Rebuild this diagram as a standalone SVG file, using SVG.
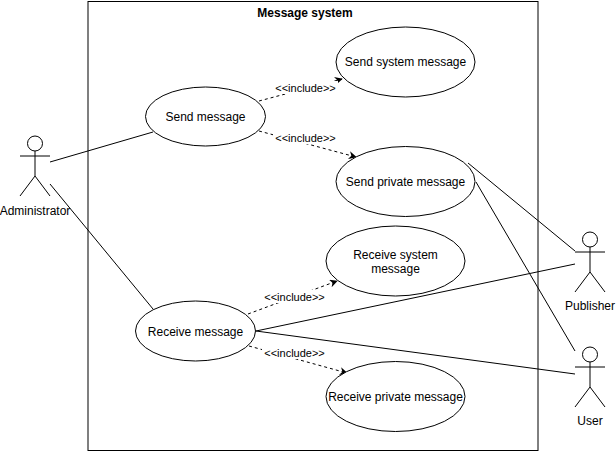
<svg xmlns="http://www.w3.org/2000/svg" width="616" height="453" viewBox="0 0 616 453">
<defs>
<style>
text{font-family:"Liberation Sans",Arial,sans-serif;fill:#000}
.uc{fill:#fff;stroke:#000;stroke-width:1}
.lbl{font-size:12px;text-anchor:middle}
.act{fill:none;stroke:#000;stroke-width:1}
.assoc{stroke:#000;stroke-width:1;fill:none}
.inc{stroke:#000;stroke-width:1;fill:none;stroke-dasharray:3 3;marker-end:url(#arr)}
.elbl{font-size:11px;text-anchor:middle}
.bg{fill:#fff}
</style>
<marker id="arr" viewBox="0 0 10 10" refX="9" refY="5" markerWidth="8" markerHeight="8" markerUnits="userSpaceOnUse" orient="auto">
<path d="M0,0 L10,5 L0,10 L3,5 Z" fill="#000"/>
</marker>
</defs>
<g id="system">
<rect x="88" y="1.5" width="450" height="449" fill="#fff" stroke="#000" stroke-width="1"/>
<text x="305" y="17" font-size="12" font-weight="bold" text-anchor="middle">Message system</text>
</g>
<g id="connectors">
<line class="assoc" x1="50" y1="162" x2="153" y2="132"/>
<line class="assoc" x1="50" y1="184" x2="153" y2="309"/>
<line class="assoc" x1="468" y1="163" x2="575" y2="251"/>
<line class="assoc" x1="476" y1="182" x2="575" y2="351"/>
<line class="assoc" x1="256" y1="331" x2="575" y2="264"/>
<line class="assoc" x1="256" y1="331" x2="575" y2="374"/>
<line class="inc" x1="259" y1="101" x2="342" y2="79"/>
<line class="inc" x1="259" y1="131" x2="356" y2="157"/>
<line class="inc" x1="248" y1="314" x2="337" y2="281"/>
<line class="inc" x1="249" y1="346" x2="347" y2="373"/>
<rect class="bg" x="273" y="81" width="65" height="13"/>
<text class="elbl" x="305.5" y="92">&lt;&lt;include&gt;&gt;</text>
<rect class="bg" x="273" y="131" width="65" height="13"/>
<text class="elbl" x="305.5" y="142">&lt;&lt;include&gt;&gt;</text>
<rect class="bg" x="262" y="290" width="65" height="13"/>
<text class="elbl" x="294.5" y="301">&lt;&lt;include&gt;&gt;</text>
<rect class="bg" x="262" y="346" width="65" height="13"/>
<text class="elbl" x="294.5" y="357">&lt;&lt;include&gt;&gt;</text>
</g>
<g id="send-message">
<ellipse class="uc" cx="205.5" cy="116.5" rx="60" ry="29.5"/>
<text class="lbl" x="205.5" y="120.5">Send message</text>
</g>
<g id="send-system-message">
<ellipse class="uc" cx="405.5" cy="62" rx="69.5" ry="35"/>
<text class="lbl" x="405.5" y="66">Send system message</text>
</g>
<g id="send-private-message">
<ellipse class="uc" cx="405.5" cy="181.5" rx="69.5" ry="35"/>
<text class="lbl" x="405.5" y="186">Send private message</text>
</g>
<g id="receive-system-message">
<ellipse class="uc" cx="395.5" cy="261" rx="69.5" ry="35"/>
<text class="lbl" x="395.5" y="259">Receive system</text>
<text class="lbl" x="395.5" y="273">message</text>
</g>
<g id="receive-message">
<ellipse class="uc" cx="195.5" cy="331" rx="60" ry="30"/>
<text class="lbl" x="195.5" y="335.5">Receive message</text>
</g>
<g id="receive-private-message">
<ellipse class="uc" cx="395.5" cy="396.5" rx="69.5" ry="35"/>
<text class="lbl" x="395.5" y="401">Receive private message</text>
</g>
<g id="administrator">
<g class="act" transform="translate(20,136)">
<circle cx="15" cy="7.5" r="7.5"/>
<path d="M15,15 V40 M0,20 H30 M0,60 L15,40 L30,60"/>
</g>
<text class="lbl" x="35" y="215">Administrator</text>
</g>
<g id="publisher">
<g class="act" transform="translate(575,232)">
<circle cx="15" cy="7.5" r="7.5"/>
<path d="M15,15 V40 M0,20 H30 M0,60 L15,40 L30,60"/>
</g>
<text class="lbl" x="590" y="310">Publisher</text>
</g>
<g id="user">
<g class="act" transform="translate(575,347)">
<circle cx="15" cy="7.5" r="7.5"/>
<path d="M15,15 V40 M0,20 H30 M0,60 L15,40 L30,60"/>
</g>
<text class="lbl" x="590" y="425">User</text>
</g>
</svg>
